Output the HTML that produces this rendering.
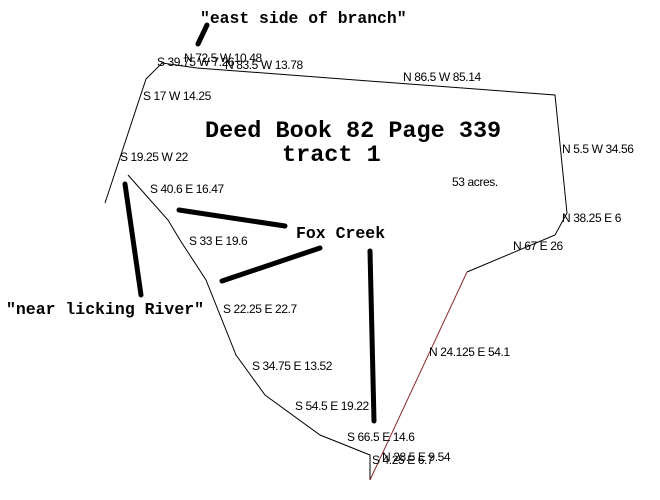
<!DOCTYPE html>
<html><head><style>body{margin:0;background:#fff}svg{display:block}</style></head><body>
<svg width="660" height="500" xmlns="http://www.w3.org/2000/svg">
<rect width="660" height="500" fill="#fff"/>
<g fill="none" stroke="#000" stroke-width="1">
<polyline points="105,203 146,79 162,63 197,68 555,95 567,213 555,235 467,272"/>
<polyline points="128,175 168,220 180,240 206,280 236,355 265,395 320,435 370,455 370,480"/>
</g>
<line x1="370" y1="480" x2="467" y2="272" stroke="#8b2a2a" stroke-width="1"/>
<g stroke="#000" stroke-width="5" stroke-linecap="round">
<line x1="198" y1="44" x2="207" y2="25"/>
<line x1="125" y1="184" x2="141" y2="295"/>
<line x1="179" y1="210" x2="285" y2="226"/>
<line x1="222" y1="281" x2="320" y2="248"/>
<line x1="370" y1="251" x2="374" y2="421"/>
</g>
<g font-family="Liberation Mono, monospace" font-weight="bold" fill="#000">
<text x="205" y="137" font-size="23.5">Deed Book 82 Page 339</text>
<text x="282" y="161" font-size="23.5">tract 1</text>
<text x="200" y="23" font-size="16.4">"east side of branch"</text>
<text x="6" y="314" font-size="16.5">"near licking River"</text>
<text x="296" y="238" font-size="16.5">Fox Creek</text>
</g>
<g font-family="Liberation Sans, sans-serif" font-size="12" fill="#000" letter-spacing="-0.4">
<text x="184" y="62">N 72.5 W 10.48</text>
<text x="157" y="66">S 39.75 W 7.26</text>
<text x="225" y="69">N 83.5 W 13.78</text>
<text x="403" y="81">N 86.5 W 85.14</text>
<text x="143" y="100">S 17 W 14.25</text>
<text x="120" y="161">S 19.25 W 22</text>
<text x="150" y="193">S 40.6 E 16.47</text>
<text x="452" y="186">53 acres.</text>
<text x="562" y="153">N 5.5 W 34.56</text>
<text x="562" y="222">N 38.25 E 6</text>
<text x="513" y="250">N 67 E 26</text>
<text x="189" y="245">S 33 E 19.6</text>
<text x="223" y="313">S 22.25 E 22.7</text>
<text x="252" y="370">S 34.75 E 13.52</text>
<text x="295" y="410">S 54.5 E 19.22</text>
<text x="347" y="441">S 66.5 E 14.6</text>
<text x="429" y="356">N 24.125 E 54.1</text>
<text x="382" y="461">N 28.5 E 9.54</text>
<text x="372" y="464">S 4.25 E 6.7</text>
</g>
</svg>
</body></html>
